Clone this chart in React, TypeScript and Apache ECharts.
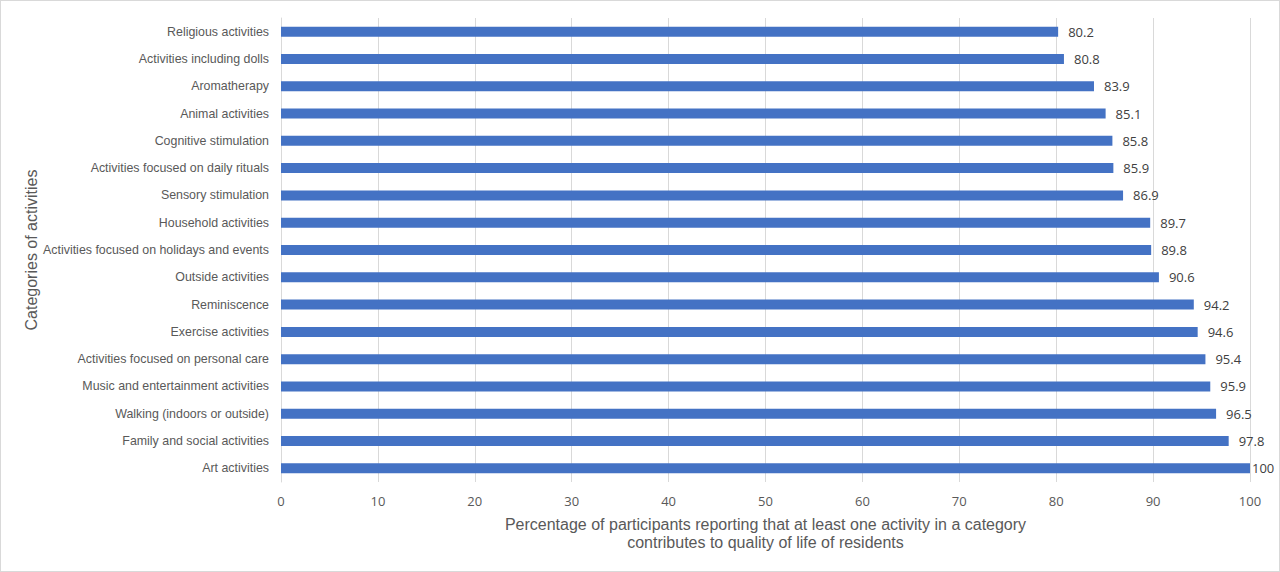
import React, { useEffect, useRef } from 'react';
import * as echarts from 'echarts';

// top to bottom as in the figure
const categories = [
	'Religious activities',
	'Activities including dolls',
	'Aromatherapy',
	'Animal activities',
	'Cognitive stimulation',
	'Activities focused on daily rituals',
	'Sensory stimulation',
	'Household activities',
	'Activities focused on holidays and events',
	'Outside activities',
	'Reminiscence',
	'Exercise activities',
	'Activities focused on personal care',
	'Music and entertainment activities',
	'Walking (indoors or outside)',
	'Family and social activities',
	'Art activities'
];

const percentages = [80.2, 80.8, 83.9, 85.1, 85.8, 85.9, 86.9, 89.7, 89.8, 90.6, 94.2, 94.6, 95.4, 95.9, 96.5, 97.8, 100];

const xTitle = 'Percentage of participants reporting that at least one activity in a category\ncontributes to quality of life of residents';
const yTitle = 'Categories of activities';

const App: React.FC = () => {
	const chartRef = useRef<HTMLDivElement>(null);

	useEffect(() => {
		document.body.style.margin = '0';
		if (!chartRef.current) return;
		const chart = echarts.init(chartRef.current, undefined, { renderer: 'svg' });

		const option: any = {
			animation: false,
			grid: { left: 280, right: 29, top: 17, bottom: 89 },
			xAxis: {
				type: 'value',
				min: 0,
				max: 100,
				interval: 10,
				name: xTitle,
				nameLocation: 'middle',
				nameGap: 33,
				nameTextStyle: { color: '#595959', fontSize: 16, fontFamily: 'Liberation Sans', lineHeight: 18, verticalAlign: 'top' },
				axisLine: { show: false },
				axisTick: { show: false },
				axisLabel: { color: '#595959', fontSize: 13, fontFamily: 'Open Sans', margin: 12 },
				splitLine: { lineStyle: { color: '#d9d9d9', width: 1 } }
			},
			yAxis: {
				type: 'category',
				data: categories,
				inverse: true,
				name: yTitle,
				nameLocation: 'middle',
				nameGap: 242,
				nameRotate: 90,
				nameMoveOverlap: false,
				nameTextStyle: { color: '#595959', fontSize: 16, fontFamily: 'Liberation Sans' },
				axisLine: { show: true, lineStyle: { color: '#d9d9d9' } },
				axisTick: { show: false },
				axisLabel: { color: '#595959', fontSize: 12.4, fontFamily: 'Liberation Sans', margin: 12 }
			},
			series: [
				{
					type: 'bar',
					data: percentages.map(v => (v >= 100 ? { value: v, label: { distance: 2 } } : v)),
					barWidth: 10,
					itemStyle: { color: '#4472c4' },
					label: {
						show: true,
						position: 'right',
						distance: 10,
						color: '#404040',
						fontSize: 13,
						fontFamily: 'Open Sans'
					}
				}
			]
		};

		chart.setOption(option);
		return () => {
			chart.dispose();
		};
	}, []);

	return (
		<div style={{ width: 1280, height: 572, boxSizing: 'border-box', border: '1px solid #d9d9d9', background: '#fff' }}>
			<div ref={chartRef} style={{ width: '100%', height: '100%' }} />
		</div>
	);
};

export default App;
